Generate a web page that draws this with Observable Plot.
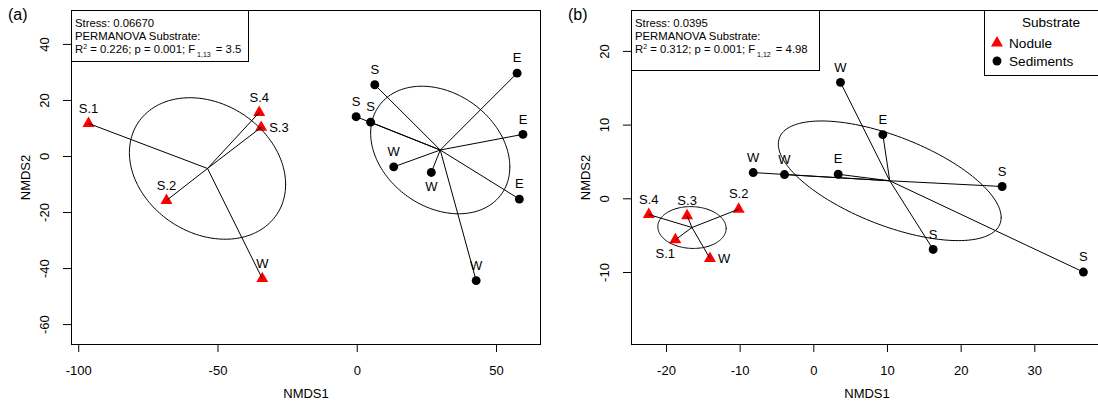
<!DOCTYPE html>
<html><head><meta charset="utf-8">
<script src="https://cdn.jsdelivr.net/npm/d3@7"></script>
<script src="https://cdn.jsdelivr.net/npm/@observablehq/plot@0.6"></script>
<style>
html,body{margin:0;padding:0;background:#fff;}
body{width:1098px;height:408px;overflow:hidden;position:relative;font-family:"Liberation Sans",Arial,sans-serif;color:#000;}
.panel{position:absolute;top:0;}
.panel svg{max-width:none !important;}
.tag{position:absolute;font-size:16px;line-height:18px;}
.stats{position:absolute;box-sizing:border-box;border:1px solid #000;background:#fff;font-size:11.3px;line-height:13px;padding:6px 0 0 3px;white-space:nowrap;}
.stats sup{font-size:7px;vertical-align:4px;line-height:0;}
.stats sub{font-size:7px;vertical-align:-4px;line-height:0;margin-left:2px;margin-right:2px;}
.legend{position:absolute;box-sizing:border-box;border:1px solid #000;background:#fff;font-size:13.6px;}
</style></head><body>
<div id="a" class="panel" style="left:0;width:549px"></div>
<div id="b" class="panel" style="left:549px;width:560px"></div>
<div class="tag" style="left:8px;top:6px">(a)</div>
<div class="tag" style="left:568px;top:6px">(b)</div>
<div class="stats" style="left:71px;top:10px;width:178px;height:52px">Stress: 0.06670<br>PERMANOVA Substrate:<br>R<sup>2</sup> = 0.226; p = 0.001; F<sub>1,13</sub> = 3.5</div>
<div class="stats" style="left:631px;top:10px;width:189px;height:61px">Stress: 0.0395<br>PERMANOVA Substrate:<br>R<sup>2</sup> = 0.312; p = 0.001; F<sub>1,12</sub> = 4.98</div>
<div id="legend" class="legend" style="left:984px;top:10px;width:134px;height:66px"></div>
<script>
// ---------- shared ----------
const substrates = ["Nodule", "Sediments"];
const substrateColors = ["#ff0000", "#000000"];
const substrateSymbols = ["triangle", "circle"];

// ---------- panel (a) ----------
const aSubstrate = ["Nodule","Nodule","Nodule","Nodule","Nodule",
  "Sediments","Sediments","Sediments","Sediments","Sediments","Sediments","Sediments","Sediments","Sediments"];
const aLabels = ["S.1","S.4","S.3","S.2","W", "E","E","E","S","S","S","W","W","W"];
const aNMDS1 = [-96.5,-35.2,-34.5,-68.5,-34.1, 57.4,59.5,58.2,6.3,-0.4,4.8,13.1,26.6,42.7];
const aNMDS2 = [11.8,15.7,10.4,-15.7,-43.6, 29.75,7.9,-15.2,25.6,14.2,12.25,-3.7,-5.7,-44.3];
const aLabelPos = ["above","above","right","above","above", "above","above","above","above","above","above","above","below","above"];
const aXTicks = [-100,-50,0,50];
const aYTicks = [-60,-40,-20,0,20,40];

// ---------- panel (b) ----------
const bSubstrate = ["Nodule","Nodule","Nodule","Nodule","Nodule",
  "Sediments","Sediments","Sediments","Sediments","Sediments","Sediments","Sediments","Sediments"];
const bLabels = ["S.4","S.3","S.2","S.1","W", "W","E","W","W","E","S","S","S"];
const bNMDS1 = [-22.4,-17.2,-10.2,-18.8,-14.1, 3.62,9.37,-8.23,-3.98,3.31,25.57,16.2,36.6];
const bNMDS2 = [-2.13,-2.3,-1.41,-5.56,-8.09, 15.8,8.71,3.56,3.29,3.33,1.67,-6.87,-9.94];
const bLabelPos = ["above","above","above","belowleft","right", "above","above","above","above","above","above","above","above"];
const bXTicks = [-20,-10,0,10,20,30];
const bYTicks = [-10,0,10,20];

function buildPanel(cfg) {
  const rows = cfg.x.map((x, i) => ({x, y: cfg.y[i], substrate: cfg.substrate[i], label: cfg.labels[i], pos: cfg.pos[i]}));
  const spokes = [], ell = [];
  for (const [g, pts] of d3.group(rows, d => d.substrate)) {
    const n = pts.length;
    const mx = d3.mean(pts, d => d.x), my = d3.mean(pts, d => d.y);
    pts.forEach(p => spokes.push({x1: mx, y1: my, x2: p.x, y2: p.y}));
    // standard-deviation ellipse (unbiased covariance), like vegan::ordiellipse(kind="sd")
    let sxx = 0, syy = 0, sxy = 0;
    pts.forEach(p => { sxx += (p.x-mx)**2; syy += (p.y-my)**2; sxy += (p.x-mx)*(p.y-my); });
    sxx /= n-1; syy /= n-1; sxy /= n-1;
    const l11 = Math.sqrt(sxx), l21 = sxy / l11, l22 = Math.sqrt(syy - l21*l21);
    for (let k = 0; k <= 180; k++) {
      const t = 2*Math.PI*k/180;
      ell.push({g, x: mx + l11*Math.cos(t), y: my + l21*Math.cos(t) + l22*Math.sin(t)});
    }
  }
  const lab = (pos) => rows.filter(d => d.pos === pos);
  const fmt = d => String(d);
  return Plot.plot({
    width: cfg.width, height: 408,
    marginLeft: cfg.marginLeft, marginRight: cfg.marginRight, marginTop: 10, marginBottom: 64,
    x: {domain: cfg.xDomain},
    y: {domain: cfg.yDomain},
    color: {domain: substrates, range: substrateColors},
    symbol: {domain: substrates, range: substrateSymbols},
    style: {fontFamily: "'Liberation Sans', Arial, sans-serif", fontSize: "13px", color: "#000", background: "transparent", overflow: "visible", maxWidth: "none"},
    marks: [
      Plot.axisX({ticks: cfg.xTicks, tickSize: 8, tickPadding: 13, tickFormat: fmt, label: null, fontSize: 13}),
      Plot.axisY({ticks: cfg.yTicks, tickSize: 8, tickFormat: () => "", label: null}),
      Plot.text(cfg.yTicks, {y: d => d, text: fmt, frameAnchor: "left", dx: -27, rotate: -90, lineAnchor: "middle", textAnchor: "middle", fontSize: 13}),
      Plot.frame({stroke: "#000", strokeWidth: 1}),
      Plot.dot(rows, {x: "x", y: "y", fill: "substrate", symbol: "substrate", r: 4.45, stroke: null}),
      Plot.link(spokes, {x1: "x1", y1: "y1", x2: "x2", y2: "y2", stroke: "#000", strokeWidth: 1}),
      Plot.line(ell, {x: "x", y: "y", z: "g", stroke: "#000", strokeWidth: 1, curve: "linear"}),
      Plot.text(lab("above"), {x: "x", y: "y", text: "label", dy: -15, lineAnchor: "middle", fontSize: 13}),
      Plot.text(lab("below"), {x: "x", y: "y", text: "label", dy: 14, lineAnchor: "middle", fontSize: 13}),
      Plot.text(lab("belowleft"), {x: "x", y: "y", text: "label", dy: 14, dx: -10, lineAnchor: "middle", fontSize: 13}),
      Plot.text(lab("right"), {x: "x", y: "y", text: "label", dx: 8, textAnchor: "start", lineAnchor: "middle", fontSize: 13}),
      Plot.text(["NMDS1"], {text: d => d, frameAnchor: "bottom", dy: 49, lineAnchor: "middle", fontSize: 13}),
      Plot.text(["NMDS2"], {text: d => d, frameAnchor: "left", dx: -46, rotate: -90, lineAnchor: "middle", textAnchor: "middle", fontSize: 13})
    ]
  });
}

document.getElementById("a").appendChild(buildPanel({
  x: aNMDS1, y: aNMDS2, substrate: aSubstrate, labels: aLabels, pos: aLabelPos,
  width: 549, marginLeft: 71, marginRight: 9,
  xDomain: [-102.6, 65.8], yDomain: [-67.1, 52.1], xTicks: aXTicks, yTicks: aYTicks
}));
document.getElementById("b").appendChild(buildPanel({
  x: bNMDS1, y: bNMDS2, substrate: bSubstrate, labels: bLabels, pos: bLabelPos,
  width: 560, marginLeft: 82, marginRight: 7,
  xDomain: [-24.75, 39.19], yDomain: [-19.77, 25.55], xTicks: bXTicks, yTicks: bYTicks
}));

// legend
(function () {
  const svgNS = "http://www.w3.org/2000/svg";
  const lg = document.getElementById("legend");
  const svg = document.createElementNS(svgNS, "svg");
  svg.setAttribute("width", 134); svg.setAttribute("height", 66);
  svg.style.position = "absolute"; svg.style.left = "-1px"; svg.style.top = "-1px";
  svg.style.fontFamily = "'Liberation Sans', Arial, sans-serif"; svg.style.fontSize = "13.6px";
  const title = document.createElementNS(svgNS, "text");
  title.setAttribute("x", 67); title.setAttribute("y", 12); title.setAttribute("dy", "0.35em");
  title.setAttribute("text-anchor", "middle"); title.textContent = "Substrate";
  svg.appendChild(title);
  substrates.forEach((s, i) => {
    const cy = 33 + i*18;
    const sym = document.createElementNS(svgNS, "path");
    const type = substrateSymbols[i] === "triangle" ? d3.symbolTriangle : d3.symbolCircle;
    sym.setAttribute("d", d3.symbol(type, Math.PI*4.45*4.45)());
    sym.setAttribute("transform", `translate(13,${cy})`);
    sym.setAttribute("fill", substrateColors[i]);
    svg.appendChild(sym);
    const t = document.createElementNS(svgNS, "text");
    t.setAttribute("x", 25); t.setAttribute("y", cy); t.setAttribute("dy", "0.35em");
    t.textContent = s;
    svg.appendChild(t);
  });
  lg.appendChild(svg);
})();
</script>
</body></html>
